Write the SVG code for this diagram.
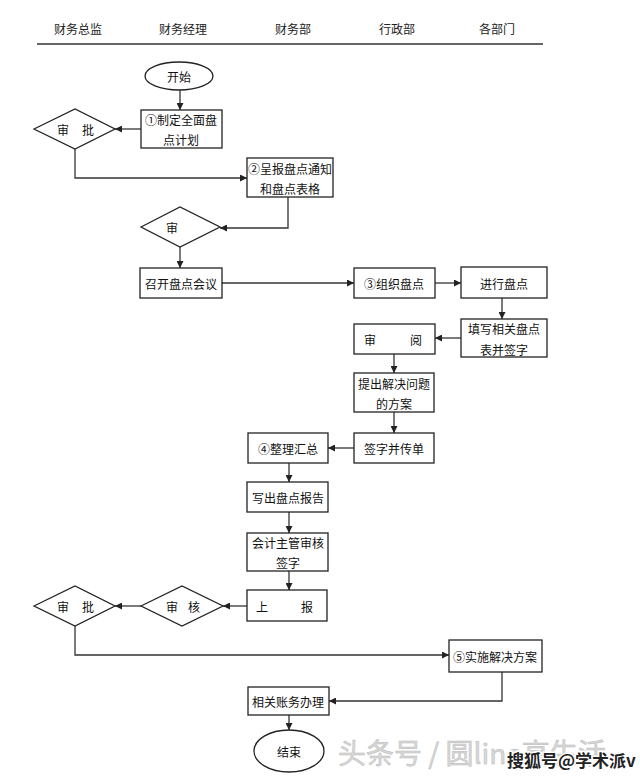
<svg xmlns="http://www.w3.org/2000/svg" width="640" height="780" viewBox="0 0 640 780">
<defs>
<marker id="ah" viewBox="0 0 10 10" refX="10" refY="5" markerWidth="7" markerHeight="7" orient="auto" markerUnits="userSpaceOnUse">
<path d="M0,0 L10,5 L0,10 z" fill="#222"/>
</marker>
<style>
.bx{fill:#fff;stroke:#222;stroke-width:1.3}
.t{font-family:"Noto Sans CJK SC","Liberation Sans",sans-serif;font-size:12px;fill:#111;text-anchor:middle;dominant-baseline:central}
.h{font-family:"Noto Sans CJK SC","Liberation Sans",sans-serif;font-size:12px;fill:#222;text-anchor:middle}
.c{fill:none;stroke:#333;stroke-width:1.3;marker-end:url(#ah)}
</style>
</defs>
<rect width="640" height="780" fill="#fff"/>
<g id="header">
<text class="h" x="78" y="34">财务总监</text>
<text class="h" x="183" y="34">财务经理</text>
<text class="h" x="293" y="34">财务部</text>
<text class="h" x="397" y="34">行政部</text>
<text class="h" x="497" y="34">各部门</text>
<line x1="37" y1="44" x2="543" y2="44" stroke="#666" stroke-width="2"/>
</g>
<g id="connectors">
<path class="c" d="M180,90 V110"/>
<path class="c" d="M141,129 H115"/>
<path class="c" d="M75,149 V178 H247"/>
<path class="c" d="M288,197 V228 H220"/>
<path class="c" d="M180,247 V268"/>
<path class="c" d="M222,283 H354"/>
<path class="c" d="M435,283 H461"/>
<path class="c" d="M502,298 V319"/>
<path class="c" d="M461,338 H435"/>
<path class="c" d="M394,354 V373"/>
<path class="c" d="M394,412 V433"/>
<path class="c" d="M354,448 H328"/>
<path class="c" d="M289,463 V482"/>
<path class="c" d="M289,512 V533"/>
<path class="c" d="M289,571 V590"/>
<path class="c" d="M247,606 H223"/>
<path class="c" d="M141,606 H115"/>
<path class="c" d="M75,626 V655 H449"/>
<path class="c" d="M502,672 V701 H329"/>
<path class="c" d="M289,715 V730"/>
</g>
<g id="start"><ellipse class="bx" cx="179" cy="76" rx="34" ry="14"/><text class="t" x="179" y="76">开始</text></g>
<g id="plan"><rect class="bx" x="141" y="110" width="81" height="38"/><text class="t" x="181" y="119">①制定全面盘</text><text class="t" x="181" y="139">点计划</text></g>
<g id="approve1"><polygon class="bx" points="34,129 75,109 115,129 75,149"/><text class="t" x="63" y="129">审</text><text class="t" x="88" y="129">批</text></g>
<g id="notice"><rect class="bx" x="247" y="158" width="86" height="39"/><text class="t" x="290" y="168">②呈报盘点通知</text><text class="t" x="290" y="188">和盘点表格</text></g>
<g id="review1"><polygon class="bx" points="141,227 180,207 220,227 180,247"/><text class="t" x="172" y="227">审</text></g>
<g id="meeting"><rect class="bx" x="140" y="268" width="82" height="30"/><text class="t" x="181" y="283">召开盘点会议</text></g>
<g id="organize"><rect class="bx" x="354" y="268" width="81" height="30"/><text class="t" x="394" y="283">③组织盘点</text></g>
<g id="count"><rect class="bx" x="461" y="267" width="86" height="31"/><text class="t" x="504" y="283">进行盘点</text></g>
<g id="fill"><rect class="bx" x="461" y="319" width="86" height="38"/><text class="t" x="504" y="328">填写相关盘点</text><text class="t" x="504" y="349">表并签字</text></g>
<g id="read"><rect class="bx" x="354" y="324" width="81" height="30"/><text class="t" x="370" y="339">审</text><text class="t" x="416" y="339">阅</text></g>
<g id="propose"><rect class="bx" x="354" y="373" width="80" height="39"/><text class="t" x="394" y="383">提出解决问题</text><text class="t" x="394" y="403">的方案</text></g>
<g id="sign"><rect class="bx" x="354" y="433" width="80" height="30"/><text class="t" x="394" y="448">签字并传单</text></g>
<g id="summary"><rect class="bx" x="248" y="433" width="80" height="30"/><text class="t" x="288" y="448">④整理汇总</text></g>
<g id="report"><rect class="bx" x="247" y="482" width="81" height="30"/><text class="t" x="288" y="497">写出盘点报告</text></g>
<g id="supervisor"><rect class="bx" x="247" y="533" width="81" height="38"/><text class="t" x="288" y="542">会计主管审核</text><text class="t" x="288" y="562">签字</text></g>
<g id="submit"><rect class="bx" x="247" y="590" width="80" height="31"/><text class="t" x="262" y="606">上</text><text class="t" x="307" y="606">报</text></g>
<g id="check"><polygon class="bx" points="141,606 182,586 223,606 182,626"/><text class="t" x="172" y="606">审</text><text class="t" x="194" y="606">核</text></g>
<g id="approve2"><polygon class="bx" points="34,606 75,586 115,606 75,626"/><text class="t" x="63" y="606">审</text><text class="t" x="88" y="606">批</text></g>
<g id="implement"><rect class="bx" x="449" y="640" width="93" height="32"/><text class="t" x="495" y="656">⑤实施解决方案</text></g>
<g id="accounts"><rect class="bx" x="248" y="687" width="81" height="28"/><text class="t" x="288" y="701">相关账务办理</text></g>
<g id="end"><ellipse class="bx" cx="289" cy="751" rx="35" ry="21"/><text class="t" x="289" y="751">结束</text></g>
<g id="watermark">
<text x="338" y="764" font-family="Noto Sans CJK SC,sans-serif" font-size="28" fill="#d8d8d8" stroke="#bbb" stroke-width="0.5">头条号 / 圆line高生活</text>
<text x="507" y="767" font-family="Noto Sans CJK SC,sans-serif" font-size="17" font-weight="bold" fill="#222" stroke="#fff" stroke-width="3" paint-order="stroke">搜狐号@学术派v</text>
</g>
</svg>
